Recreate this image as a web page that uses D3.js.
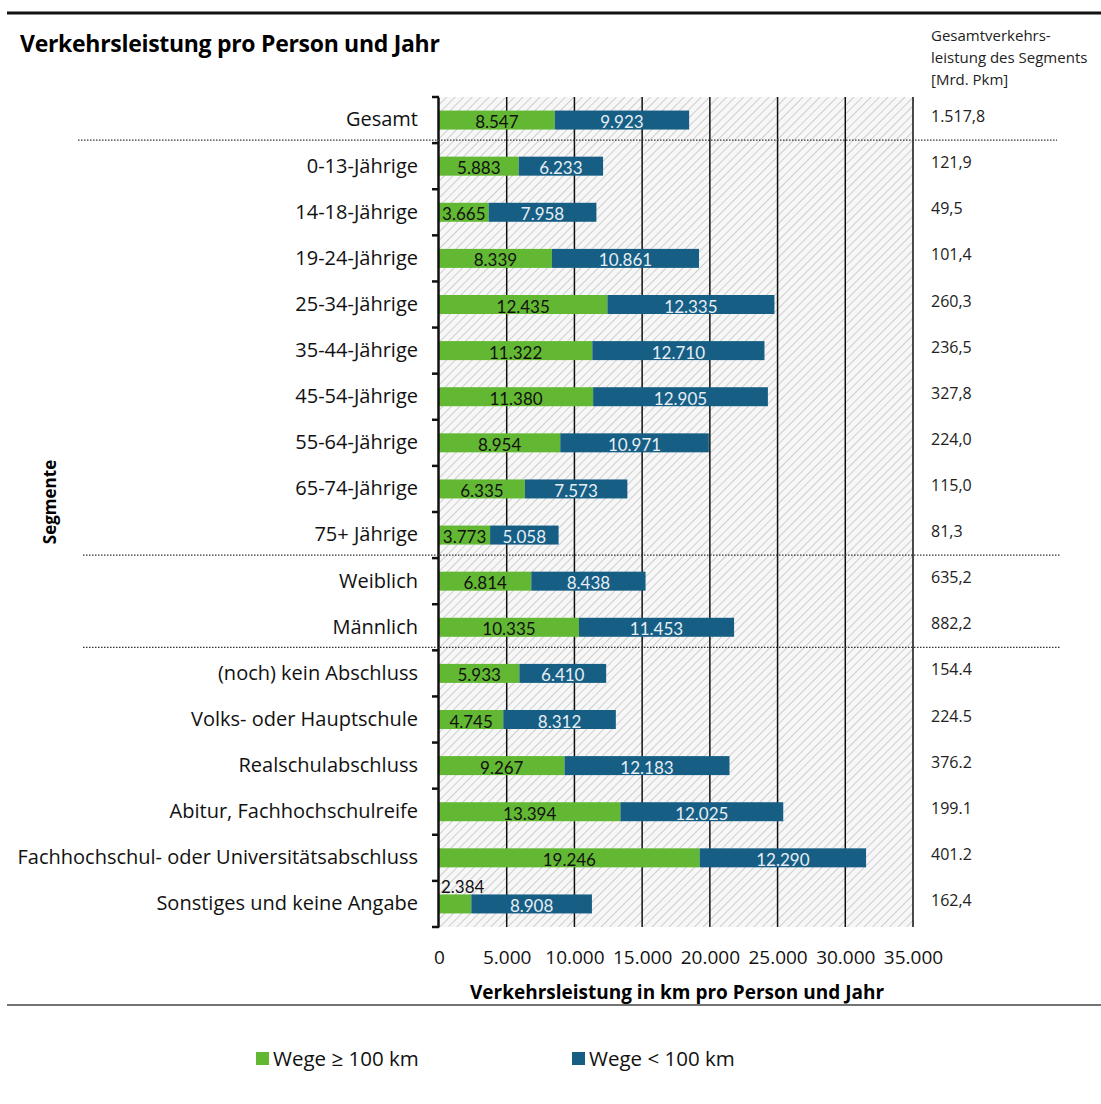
<!DOCTYPE html>
<html>
<head>
<meta charset="utf-8">
<script src="https://cdn.jsdelivr.net/npm/d3@7"></script>
<style>
  body { margin: 0; background: #fff; }
  svg { display: block; }
</style>
</head>
<body>
<svg id="canvas" width="1101" height="1104"></svg>
<script>
// segments, values
let segments = ['Gesamt', '0-13-Jährige', '14-18-Jährige', '19-24-Jährige', '25-34-Jährige',
  '35-44-Jährige', '45-54-Jährige', '55-64-Jährige', '65-74-Jährige', '75+ Jährige',
  'Weiblich', 'Männlich ', '(noch) kein Abschluss', 'Volks- oder Hauptschule',
  'Realschulabschluss', 'Abitur, Fachhochschulreife',
  'Fachhochschul- oder Universitätsabschluss', 'Sonstiges und keine Angabe'];
let longTrips = [8547, 5883, 3665, 8339, 12435, 11322, 11380, 8954, 6335, 3773,
  6814, 10335, 5933, 4745, 9267, 13394, 19246, 2384];
let shortTrips = [9923, 6233, 7958, 10861, 12335, 12710, 12905, 10971, 7573, 5058,
  8438, 11453, 6410, 8312, 12183, 12025, 12290, 8908];
let totals = ['1.517,8', '121,9', '49,5', '101,4', '260,3', '236,5', '327,8', '224,0',
  '115,0', '81,3', '635,2', '882,2', '154.4', '224.5', '376.2', '199.1', '401.2', '162,4'];
let xTicks = [0, 5000, 10000, 15000, 20000, 25000, 30000, 35000];
let separatorsAfter = ['Gesamt', '75+ Jährige', 'Männlich '];
let seriesNames = ['Wege ≥ 100 km', 'Wege < 100 km'];

let green = '#62b832';
let blue = '#175e85';

let svg = d3.select('#canvas');
let margin = { left: 439, right: 913, top: 97, bottom: 927 };

let x = d3.scaleLinear().domain([0, 35000]).range([margin.left, margin.right]);
let y = d3.scaleBand().domain(segments).range([margin.top, margin.bottom]).paddingInner(0).paddingOuter(0);
let barH = 19;

let fmt = d3.formatLocale({ decimal: ',', thousands: '.', grouping: [3], currency: ['', '€'] }).format(',');

// hatch pattern
let defs = svg.append('defs');
let pat = defs.append('pattern')
  .attr('id', 'hatch')
  .attr('patternUnits', 'userSpaceOnUse')
  .attr('width', 6).attr('height', 6)
  .attr('patternTransform', 'rotate(45)');
pat.append('rect').attr('width', 6).attr('height', 6).attr('fill', '#f7f7f7');
pat.append('line').attr('x1', 0).attr('y1', 0).attr('x2', 0).attr('y2', 6)
  .attr('stroke', '#c4c4c4').attr('stroke-width', 1.6);

// top and bottom rules
svg.append('line').attr('x1', 7).attr('x2', 1101).attr('y1', 13).attr('y2', 13)
  .attr('stroke', '#111').attr('stroke-width', 3);
svg.append('line').attr('x1', 7).attr('x2', 1101).attr('y1', 1005).attr('y2', 1005)
  .attr('stroke', '#444').attr('stroke-width', 1.5);

svg.append('text').attr('x', 20).attr('y', 52)
  .attr('font-family', '"Open Sans", sans-serif').attr('font-weight', 'bold').attr('font-size', 23)
  .attr('letter-spacing', -0.3)
  .text('Verkehrsleistung pro Person und Jahr');

// right column header
let header = ['Gesamtverkehrs-', 'leistung des Segments', '[Mrd. Pkm]'];
svg.append('g').selectAll('text').data(header).enter().append('text')
  .attr('x', 931).attr('y', (d, i) => 41 + i * 22)
  .attr('font-family', '"Open Sans", sans-serif').attr('font-size', 15).attr('fill', '#222')
  .text(d => d);

// plot background
svg.append('rect').attr('x', margin.left).attr('y', margin.top)
  .attr('width', margin.right - margin.left).attr('height', margin.bottom - margin.top)
  .attr('fill', 'url(#hatch)');

// gridlines
svg.append('g').selectAll('line').data(xTicks.filter(d => d > 0)).enter().append('line')
  .attr('x1', d => x(d)).attr('x2', d => x(d))
  .attr('y1', margin.top).attr('y2', margin.bottom)
  .attr('stroke', '#111').attr('stroke-width', 1.5);

// bars
let rows = svg.append('g').selectAll('g').data(segments).enter().append('g');

rows.append('rect')
  .attr('x', x(0))
  .attr('y', d => y(d) + y.bandwidth() / 2 - barH / 2)
  .attr('width', (d, i) => x(longTrips[i]) - x(0))
  .attr('height', barH)
  .attr('fill', green);

rows.append('rect')
  .attr('x', (d, i) => x(longTrips[i]))
  .attr('y', d => y(d) + y.bandwidth() / 2 - barH / 2)
  .attr('width', (d, i) => x(longTrips[i] + shortTrips[i]) - x(longTrips[i]))
  .attr('height', barH)
  .attr('fill', blue);

// data labels
rows.append('text')
  .attr('x', (d, i) => {
    let w = x(longTrips[i]) - x(0);
    return w < 40 ? x(0) + 2 : x(0) + w / 2;
  })
  .attr('y', (d, i) => {
    let w = x(longTrips[i]) - x(0);
    return w < 40 ? y(d) + y.bandwidth() / 2 - 11 : y(d) + y.bandwidth() / 2 + 8;
  })
  .attr('text-anchor', (d, i) => (x(longTrips[i]) - x(0)) < 40 ? 'start' : 'middle')
  .attr('font-family', 'Lato, sans-serif').attr('font-size', 17).attr('fill', '#111')
  .text((d, i) => fmt(longTrips[i]));

rows.append('text')
  .attr('x', (d, i) => (x(longTrips[i]) + x(longTrips[i] + shortTrips[i])) / 2)
  .attr('y', d => y(d) + y.bandwidth() / 2 + 8)
  .attr('text-anchor', 'middle')
  .attr('font-family', 'Lato, sans-serif').attr('font-size', 17).attr('fill', '#e6eef4')
  .text((d, i) => fmt(shortTrips[i]));

// right column values
rows.append('text')
  .attr('x', 931)
  .attr('y', d => y(d) + y.bandwidth() / 2 + 2)
  .attr('font-family', '"Open Sans", sans-serif').attr('font-size', 16).attr('fill', '#222')
  .text((d, i) => totals[i]);

// y axis
let yAxis = svg.append('g')
  .attr('transform', 'translate(' + (margin.left - 1) + ',0)')
  .call(d3.axisLeft(y).tickSize(0).tickPadding(20));
yAxis.select('.domain').attr('stroke', '#111').attr('stroke-width', 2.5);
yAxis.selectAll('text')
  .attr('font-family', '"Open Sans", sans-serif').attr('font-size', 20).attr('fill', '#111');

// band boundary ticks
let bounds = segments.map(d => y(d)).concat([margin.bottom]);
svg.append('g').selectAll('line').data(bounds).enter().append('line')
  .attr('x1', margin.left - 7).attr('x2', margin.left)
  .attr('y1', d => d).attr('y2', d => d)
  .attr('stroke', '#111').attr('stroke-width', 2.5);

// x axis labels
let xAxis = svg.append('g')
  .attr('transform', 'translate(0,' + margin.bottom + ')')
  .call(d3.axisBottom(x).tickValues(xTicks).tickSize(0).tickPadding(24).tickFormat(d => fmt(d)));
xAxis.select('.domain').remove();
xAxis.selectAll('text')
  .attr('font-family', '"Open Sans", sans-serif').attr('font-size', 19).attr('fill', '#111');

svg.append('text').attr('x', 677).attr('y', 999).attr('text-anchor', 'middle')
  .attr('font-family', '"Open Sans", sans-serif').attr('font-weight', 'bold').attr('font-size', 19)
  .text('Verkehrsleistung in km pro Person und Jahr');

svg.append('text')
  .attr('transform', 'translate(56,502) rotate(-90)')
  .attr('text-anchor', 'middle')
  .attr('font-family', '"Open Sans", sans-serif').attr('font-weight', 'bold').attr('font-size', 17)
  .text('Segmente');

// dotted separators
svg.append('g').selectAll('line').data(separatorsAfter).enter().append('line')
  .attr('x1', (d, i) => i === 0 ? 78 : 83).attr('x2', (d, i) => i === 0 ? 1057 : 1060)
  .attr('y1', d => y(d) + y.bandwidth() - 3).attr('y2', d => y(d) + y.bandwidth() - 3)
  .attr('stroke', '#333').attr('stroke-width', 1.2).attr('stroke-dasharray', '1.5,1.5');

// legend
let legend = svg.append('g').selectAll('g').data(seriesNames).enter().append('g')
  .attr('transform', (d, i) => 'translate(' + (256 + i * 316) + ',1052)');
legend.append('rect').attr('width', 13).attr('height', 13)
  .attr('fill', (d, i) => i === 0 ? green : blue);
legend.append('text').attr('x', 17).attr('y', 14)
  .attr('font-family', '"Open Sans", sans-serif').attr('font-size', 20.5).attr('fill', '#111')
  .text(d => d);
</script>
</body>
</html>
